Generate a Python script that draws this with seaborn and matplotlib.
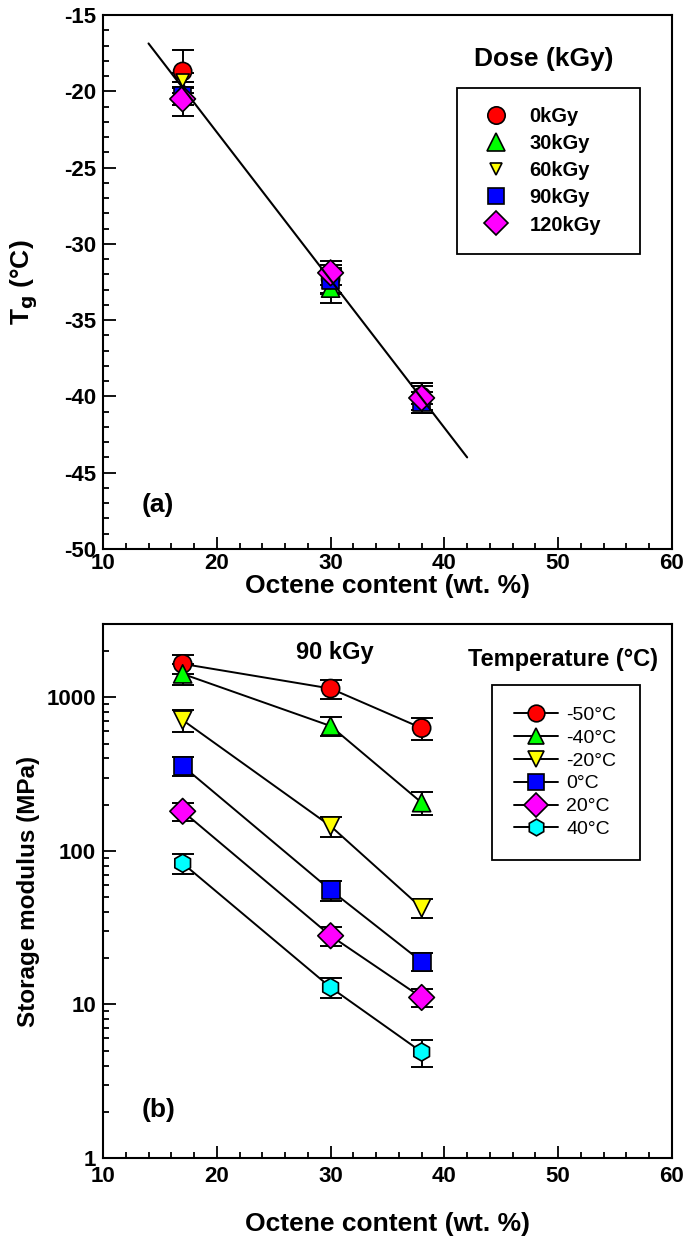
import numpy as np
import pandas as pd
import seaborn as sns
import matplotlib.pyplot as plt
from matplotlib.lines import Line2D
from matplotlib.ticker import MultipleLocator, LogLocator, NullFormatter

# ---- data ----
octene = [17, 30, 38]

# (a) glass transition temperature vs octene content, per dose
doses = ['0kGy', '30kGy', '60kGy', '90kGy', '120kGy']
tg_0 = [-18.7, -32.3, -40.0]
tg_30 = [-20.0, -32.9, -39.8]
tg_60 = [-19.3, -32.5, -40.2]
tg_90 = [-20.3, -32.4, -40.4]
tg_120 = [-20.5, -31.9, -40.1]
tg_err_0 = [1.4, 0.9, 0.9]
tg_err_30 = [0.6, 1.0, 0.7]
tg_err_60 = [0.5, 0.8, 0.9]
tg_err_90 = [0.6, 0.8, 0.7]
tg_err_120 = [1.1, 0.8, 1.0]

# (b) storage modulus at 90 kGy, per temperature
temps = ['-50°C', '-40°C', '-20°C', '0°C', '20°C', '40°C']
mod_m50 = [1650, 1140, 630]
mod_m40 = [1420, 650, 206]
mod_m20 = [710, 145, 42.5]
mod_0 = [357, 55.5, 19.0]
mod_20 = [181, 28.0, 11.1]
mod_40 = [83, 12.9, 4.9]
mod_err_m50 = [225, 160, 100]
mod_err_m40 = [220, 90, 34]
mod_err_m20 = [120, 21, 6]
mod_err_0 = [50, 8.2, 2.5]
mod_err_20 = [24, 4.0, 1.5]
mod_err_40 = [12, 1.9, 1.0]

colors = ['#ff0000', '#00ff00', '#ffff00', '#0000ff', '#ff00ff', '#00ffff']
markers = ['o', '^', 'v', 's', 'D', 'h']

# ---- tidy frames ----
tg_vals = [tg_0, tg_30, tg_60, tg_90, tg_120]
tg_errs = [tg_err_0, tg_err_30, tg_err_60, tg_err_90, tg_err_120]
df_a = pd.DataFrame({
    'octene': octene * len(doses),
    'tg': sum(tg_vals, []),
    'err': sum(tg_errs, []),
    'dose': [d for d in doses for _ in octene],
})

mod_vals = [mod_m50, mod_m40, mod_m20, mod_0, mod_20, mod_40]
mod_errs = [mod_err_m50, mod_err_m40, mod_err_m20, mod_err_0, mod_err_20, mod_err_40]
df_b = pd.DataFrame({
    'octene': octene * len(temps),
    'modulus': sum(mod_vals, []),
    'err': sum(mod_errs, []),
    'temp': [t for t in temps for _ in octene],
})

sns.set_style("ticks")
plt.rcParams['font.family'] = ['Liberation Sans', 'DejaVu Sans']
plt.rcParams['font.weight'] = 'bold'
plt.rcParams['axes.unicode_minus'] = False
for k in ['text.color', 'axes.labelcolor', 'xtick.color', 'ytick.color', 'axes.edgecolor']:
    plt.rcParams[k] = 'black'

W, H = 686, 1245
fig = plt.figure(figsize=(W / 100, H / 100), dpi=100)
ax1 = fig.add_axes([103 / W, 1 - 549 / H, 569 / W, 534 / H])
ax2 = fig.add_axes([103 / W, 1 - 1158 / H, 569 / W, 534 / H])

def style_axes(ax, xpad=6):
    ax.tick_params(which='major', direction='in', length=9, width=1.3,
                   top=False, right=False, labelsize=16, colors='black')
    ax.tick_params(which='minor', direction='in', length=4.5, width=1.3,
                   top=False, right=False)
    ax.tick_params(axis='x', which='major', pad=xpad)
    ax.tick_params(axis='y', which='major', pad=5)
    ax.xaxis.set_major_locator(MultipleLocator(10))
    ax.xaxis.set_minor_locator(MultipleLocator(2))
    ax.set_xlim(10, 60)
    for lab in ax.get_xticklabels() + ax.get_yticklabels():
        lab.set_fontweight('bold')
    for sp in ax.spines.values():
        sp.set_visible(True)
        sp.set_linewidth(1.5)
        sp.set_color('black')

# ---- panel (a) ----
sizes_a = {'0kGy': 170, '30kGy': 170, '60kGy': 90, '90kGy': 150, '120kGy': 170}
for d in doses:
    sub = df_a[df_a['dose'] == d]
    ax1.errorbar(sub['octene'], sub['tg'], yerr=sub['err'], fmt='none',
                 ecolor='black', elinewidth=1.4, capsize=8, capthick=1.4, zorder=2)
sns.scatterplot(data=df_a, x='octene', y='tg', hue='dose', style='dose', size='dose',
                hue_order=doses, style_order=doses, size_order=doses,
                palette=colors[:5], markers=markers[:5], sizes=sizes_a,
                edgecolor='black', linewidth=1.2, legend=False, zorder=3, ax=ax1)
coef = np.polyfit(df_a['octene'], df_a['tg'], 1)
xs = np.array([14, 42])
ax1.plot(xs, np.polyval(coef, xs), color='black', lw=1.5, zorder=4)

ax1.set_ylim(-50, -15)
ax1.yaxis.set_major_locator(MultipleLocator(5))
ax1.yaxis.set_minor_locator(MultipleLocator(1))
style_axes(ax1, xpad=3)
ax1.set_xlabel('Octene content (wt. %)', fontsize=19, fontweight='bold', labelpad=0)
ax1.set_ylabel('T$_\\mathbf{g}$ (°C)', fontsize=19, fontweight='bold', labelpad=17)

handles_a = [Line2D([], [], ls='none', marker=m, markersize=s, markerfacecolor=c,
                    markeredgecolor='black', markeredgewidth=1.2)
             for m, c, s in zip(markers[:5], colors[:5], [12.5, 12.5, 9, 11, 12.5])]
leg_a = ax1.legend(handles_a, doses, loc='upper left', mode='expand',
                   bbox_to_anchor=(0.622, 0.56, 0.322, 0.303),
                   frameon=True, fancybox=False, edgecolor='black', framealpha=1,
                   prop=dict(size=14.5, weight='bold'), handlelength=2.0,
                   handletextpad=0.65, labelspacing=0.4, borderpad=0.95,
                   borderaxespad=0)
leg_a.get_frame().set_linewidth(1.3)
ax1.text(0.775, 0.918, 'Dose (kGy)', transform=ax1.transAxes, ha='center', va='center',
         fontsize=19, fontweight='bold')
ax1.text(0.097, 0.082, '(a)', transform=ax1.transAxes, ha='center', va='center',
         fontsize=19, fontweight='bold')

# ---- panel (b) ----
for t in temps:
    sub = df_b[df_b['temp'] == t]
    ax2.errorbar(sub['octene'], sub['modulus'], yerr=sub['err'], fmt='none',
                 ecolor='black', elinewidth=1.4, capsize=8, capthick=1.4, zorder=2)
sns.lineplot(data=df_b, x='octene', y='modulus', hue='temp', style='temp',
             hue_order=temps, style_order=temps, palette=['black'] * 6,
             markers=False, dashes=False, lw=1.4, legend=False, zorder=3, ax=ax2)
sns.scatterplot(data=df_b, x='octene', y='modulus', hue='temp', style='temp',
                hue_order=temps, style_order=temps, palette=colors, markers=markers,
                s=170, edgecolor='black', linewidth=1.2, legend=False, zorder=4, ax=ax2)

ax2.set_yscale('log')
ax2.set_ylim(1, 3000)
ax2.yaxis.set_major_locator(LogLocator(base=10, numticks=10))
ax2.yaxis.set_minor_locator(LogLocator(base=10, subs=np.arange(2, 10), numticks=10))
ax2.yaxis.set_minor_formatter(NullFormatter())
ax2.yaxis.set_major_formatter(plt.FuncFormatter(lambda v, p: f'{v:g}'))
style_axes(ax2)
ax2.set_xlabel('Octene content (wt. %)', fontsize=19, fontweight='bold', labelpad=18)
ax2.set_ylabel('Storage modulus (MPa)', fontsize=17.5, fontweight='bold', labelpad=5)

handles_b = [Line2D([], [], color='black', lw=1.4, marker=m, markersize=12,
                    markerfacecolor=c, markeredgecolor='black', markeredgewidth=1.2)
             for m, c in zip(markers, colors)]
leg_b = ax2.legend(handles_b, temps, loc='upper left', mode='expand',
                   bbox_to_anchor=(0.684, 0.558, 0.26, 0.328),
                   frameon=True, fancybox=False, edgecolor='black', framealpha=1,
                   prop=dict(size=14, weight='normal'), handlelength=2.3,
                   handletextpad=0.4, labelspacing=0.27, borderpad=1.1,
                   borderaxespad=0)
leg_b.get_frame().set_linewidth(1.3)
ax2.text(0.808, 0.933, 'Temperature (°C)', transform=ax2.transAxes, ha='center',
         va='center', fontsize=17, fontweight='bold')
ax2.text(0.408, 0.946, '90 kGy', transform=ax2.transAxes, ha='center', va='center',
         fontsize=17, fontweight='bold')
ax2.text(0.097, 0.09, '(b)', transform=ax2.transAxes, ha='center', va='center',
         fontsize=19, fontweight='bold')

fig.savefig('out.png', dpi=100)
